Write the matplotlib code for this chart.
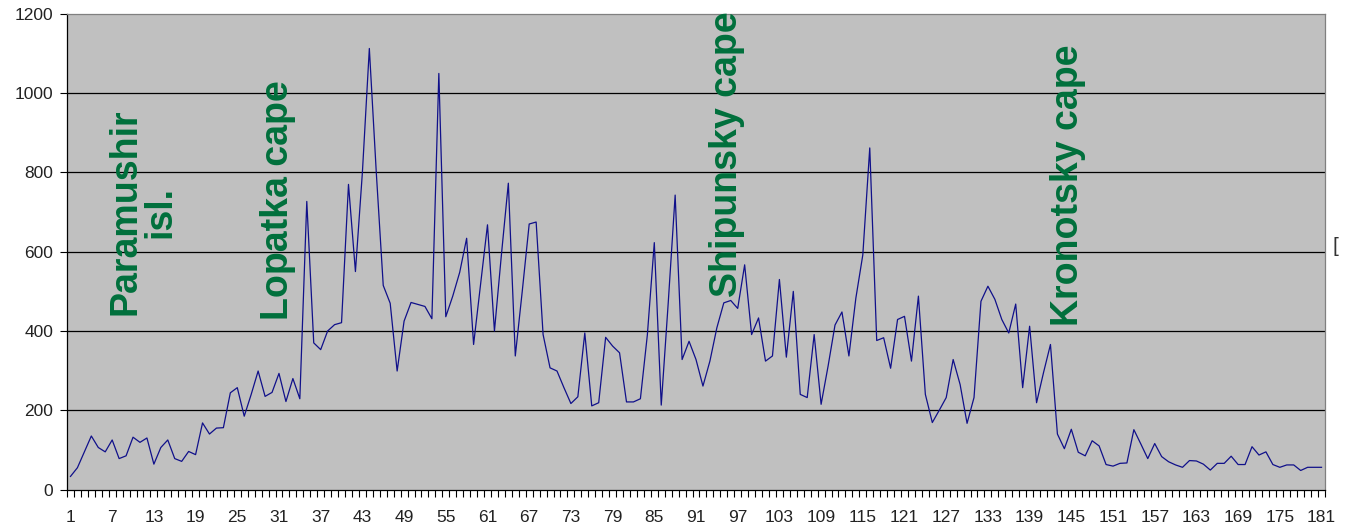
import matplotlib
matplotlib.use('Agg')
import matplotlib.pyplot as plt
from matplotlib.ticker import FixedLocator

plt.rcParams['font.family'] = ['Liberation Sans', 'DejaVu Sans']

# point numbers along the coast and the values
points = list(range(1, 182))
values = [
    33, 55, 95, 135, 106, 95, 125, 78, 85, 132,
    119, 130, 64, 106, 125, 78, 71, 96, 88, 168,
    140, 155, 156, 244, 257, 185, 240, 299, 235, 245,
    293, 222, 280, 229, 727, 370, 353, 400, 416, 421,
    770, 550, 800, 1113, 800, 515, 470, 299, 425, 472,
    467, 462, 431, 1050, 436, 488, 548, 634, 366, 518,
    668, 400, 592, 773, 337, 500, 670, 675, 391, 307,
    299, 257, 217, 234, 395, 211, 219, 384, 362, 345,
    221, 221, 229, 390, 623, 213, 470, 743, 328, 374,
    328, 261, 324, 408, 471, 477, 457, 567, 391, 433,
    324, 337, 530, 334, 500, 240, 232, 391, 215, 311,
    415, 448, 337, 483, 592, 862, 376, 383, 306, 429,
    437, 324, 488, 240, 169, 200, 232, 328, 265, 167,
    232, 475, 513, 480, 429, 395, 468, 257, 412, 219,
    295, 366, 140, 103, 152, 94, 85, 123, 110, 63,
    59, 66, 67, 151, 115, 78, 116, 83, 70, 62,
    56, 73, 72, 64, 49, 66, 66, 84, 63, 63,
    108, 87, 95, 63, 56, 62, 62, 48, 56, 56,
    56,
]
tick_points = points[::6]
y_ticks = [0, 200, 400, 600, 800, 1000, 1200]

place_names = ['Paramushir\nisl.', 'Lopatka cape', 'Shipunsky cape', 'Kronotsky cape']
place_at = [(11.4, 700), (30.9, 731), (95.4, 847), (144.5, 767)]

W, H = 1350, 529
fig = plt.figure(figsize=(W / 100, H / 100), dpi=100)
ax = fig.add_axes([67 / W, 1 - 489.5 / H, (1325 - 67) / W, (489.5 - 14) / H])
ax.set_facecolor('#c0c0c0')

for y in y_ticks[1:-1]:
    ax.axhline(y, color='black', lw=0.9, zorder=1)

ax.plot(points, values, color='#10108a', lw=0.9, zorder=3)

ax.set_xlim(0.5, 181.5)
ax.set_ylim(0, 1200)

ax.xaxis.set_major_locator(FixedLocator(tick_points))
ax.set_xticklabels([str(p) for p in tick_points])
ax.xaxis.set_minor_locator(FixedLocator([p + 0.5 for p in [0] + points]))
ax.tick_params(axis='x', which='major', length=0, pad=15, labelsize=12.5, labelcolor='#222222')
ax.tick_params(axis='x', which='minor', length=5, width=0.8, direction='out', color='black')

ax.set_yticks(y_ticks)
ax.tick_params(axis='y', length=5, width=0.8, direction='out', color='black', pad=5,
               labelsize=12.5, labelcolor='#222222')

ax.spines['left'].set_color('black')
ax.spines['bottom'].set_color('black')
ax.spines['top'].set_color('#808080')
ax.spines['right'].set_color('#808080')
for s in ax.spines.values():
    s.set_linewidth(0.9)

for name, (px, py) in zip(place_names, place_at):
    ax.text(px, py, name, rotation=90, ha='center', va='center', multialignment='center',
            fontsize=27, fontweight='bold', color='#00703c', linespacing=0.95, zorder=4)

fig.text(1333 / W, 1 - 247 / H, '[', fontsize=15, color='#333333', va='center', ha='left')

fig.savefig('out.png', dpi=100)
